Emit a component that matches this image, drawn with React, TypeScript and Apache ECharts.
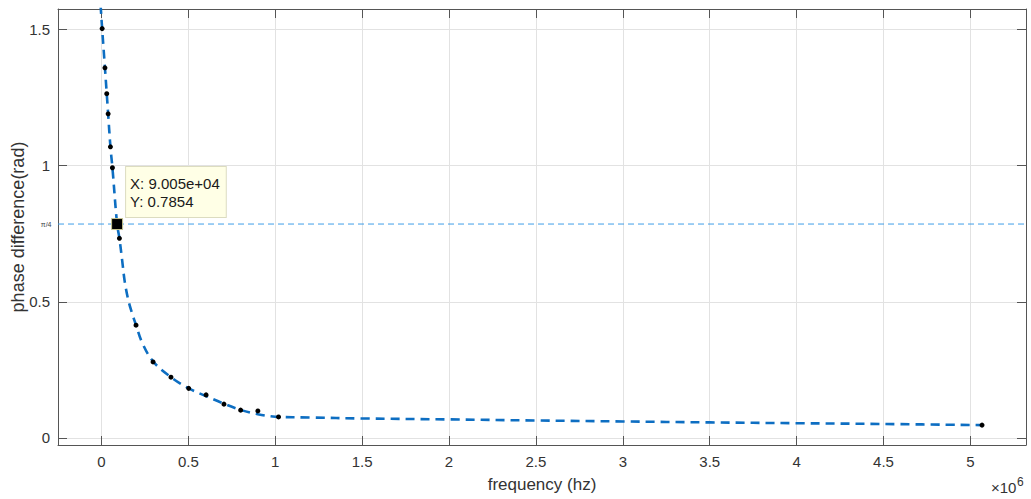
import React, { useEffect, useRef } from 'react';
import * as echarts from 'echarts';

// measured points (black dots)
const measuredFreq = [4000, 20100, 30500, 38500, 51700, 63200, 103400, 199000, 297000, 400000, 502000, 602000, 705000, 801000, 900000, 1019000, 5067000];
const measuredPhase = [1.503, 1.359, 1.264, 1.19, 1.069, 0.992, 0.733, 0.414, 0.279, 0.223, 0.182, 0.158, 0.124, 0.102, 0.099, 0.077, 0.047];

// fitted curve (blue dashed)
const fitFreq = [-5000, 4000, 20100, 30500, 38500, 51700, 63200, 90050, 103400, 119000, 134000, 155000, 176000, 199000, 234000, 297000, 400000, 502000, 600000, 700000, 800000, 900000, 1000000, 1200000, 1500000, 2000000, 2500000, 3000000, 3500000, 4000000, 4500000, 5067000];
const fitPhase = [1.59, 1.503, 1.359, 1.264, 1.19, 1.069, 0.992, 0.7854, 0.733, 0.653, 0.574, 0.505, 0.458, 0.414, 0.35, 0.281, 0.223, 0.182, 0.154, 0.127, 0.103, 0.087, 0.078, 0.075, 0.0715, 0.068, 0.064, 0.0605, 0.057, 0.054, 0.0512, 0.047];

// data cursor
const cursorFreq = 90050;
const cursorPhase = 0.7854;

// reference line (pi/4)
const refLineValue = 0.7854;
const refLineLabel = 'π/4';

// axis extents and tick steps
const xMin = -250000;
const xMax = 5320000;
const yMin = -0.026;
const yMax = 1.575;
const xTickStep = 500000;
const yTickStep = 0.5;

const FONT = "'Liberation Sans', Arial, Helvetica, sans-serif";
const AXIS_COLOR = '#555555';
const TEXT_COLOR = '#333333';
const GRID_COLOR = '#e2e2e2';
const REF_COLOR = '#3f9de8';

function fmtExp(v: number): string {
  const s = v.toExponential(3);
  const m = s.match(/^(-?[\d.]+)e([+-])(\d+)$/);
  if (!m) return s;
  const exp = m[3].length < 2 ? '0' + m[3] : m[3];
  return `${m[1]}e${m[2]}${exp}`;
}

function onStep(v: number, step: number): boolean {
  const k = v / step;
  return Math.abs(k - Math.round(k)) < 1e-6;
}

export default function App() {
  const ref = useRef<HTMLDivElement>(null);

  useEffect(() => {
    if (!ref.current) return;
    const chart = echarts.init(ref.current, undefined, { renderer: 'svg' });

    const xBase = { type: 'value' as const, min: xMin, max: xMax, splitNumber: 11 };
    const yBase = { type: 'value' as const, min: yMin, max: yMax, splitNumber: 3 };

    const option: any = {
      animation: false,
      backgroundColor: '#ffffff',
      textStyle: { fontFamily: FONT },
      grid: { left: 58, right: 5, top: 9, bottom: 54, containLabel: false, outerBoundsMode: 'none' },
      xAxis: [
        {
          ...xBase,
          position: 'bottom',
          name: 'frequency (hz)',
          nameLocation: 'middle',
          nameGap: 31,
          nameMoveOverlap: false,
          nameTextStyle: { fontSize: 17, color: TEXT_COLOR, fontFamily: FONT },
          axisLine: { show: true, onZero: false, lineStyle: { color: AXIS_COLOR, width: 1 } },
          axisTick: { show: true, inside: true, length: 9, lineStyle: { color: AXIS_COLOR } },
          axisLabel: {
            margin: 9,
            fontSize: 15,
            color: TEXT_COLOR,
            fontFamily: FONT,
            formatter: (v: number) => (onStep(v, xTickStep) ? String(+(v / 1e6).toFixed(1)) : ''),
          },
          splitLine: { show: true, lineStyle: { color: GRID_COLOR, width: 1 } },
        },
        {
          ...xBase,
          position: 'top',
          axisLine: { show: true, onZero: false, lineStyle: { color: AXIS_COLOR, width: 1 } },
          axisTick: { show: true, inside: true, length: 9, lineStyle: { color: AXIS_COLOR } },
          axisLabel: { show: false },
          splitLine: { show: false },
        },
      ],
      yAxis: [
        {
          ...yBase,
          position: 'left',
          name: 'phase difference(rad)',
          nameLocation: 'middle',
          nameGap: 31,
          nameMoveOverlap: false,
          nameTextStyle: { fontSize: 18, color: TEXT_COLOR, fontFamily: FONT },
          axisLine: { show: true, onZero: false, lineStyle: { color: AXIS_COLOR, width: 1 } },
          axisTick: { show: true, inside: true, length: 9, lineStyle: { color: AXIS_COLOR } },
          axisLabel: {
            margin: 8,
            fontSize: 15,
            color: TEXT_COLOR,
            fontFamily: FONT,
            formatter: (v: number) => (onStep(v, yTickStep) ? String(+v.toFixed(1)) : ''),
          },
          splitLine: { show: true, lineStyle: { color: GRID_COLOR, width: 1 } },
        },
        {
          ...yBase,
          position: 'right',
          axisLine: { show: true, onZero: false, lineStyle: { color: AXIS_COLOR, width: 1 } },
          axisTick: { show: true, inside: true, length: 9, lineStyle: { color: AXIS_COLOR } },
          axisLabel: { show: false },
          splitLine: { show: false },
        },
      ],
      series: [
        {
          type: 'line',
          name: 'pi/4',
          xAxisIndex: 0,
          yAxisIndex: 0,
          data: [
            {
              value: [xMin, refLineValue],
              label: {
                show: true,
                position: 'left',
                distance: 6,
                formatter: refLineLabel,
                fontSize: 7,
                color: '#444444',
                fontFamily: FONT,
              },
            },
            { value: [xMax, refLineValue], label: { show: false } },
          ],
          showSymbol: true,
          symbol: 'circle',
          symbolSize: 1,
          itemStyle: { color: 'rgba(0,0,0,0)', borderWidth: 0 },
          lineStyle: { color: REF_COLOR, width: 1, type: [6, 4], opacity: 1 },
          silent: true,
          clip: false,
          z: 1,
        },
        {
          type: 'line',
          name: 'fit',
          xAxisIndex: 0,
          yAxisIndex: 0,
          data: fitFreq.map((f, i) => [f, fitPhase[i]]),
          smooth: 0.35,
          showSymbol: false,
          symbol: 'none',
          clip: true,
          lineStyle: { color: '#0d6ec2', width: 2.6, type: [9, 6] },
          z: 2,
        },
        {
          type: 'scatter',
          name: 'measured',
          xAxisIndex: 0,
          yAxisIndex: 0,
          data: measuredFreq.map((f, i) => [f, measuredPhase[i]]),
          symbol: 'circle',
          symbolSize: 5,
          itemStyle: { color: '#000000', opacity: 1 },
          z: 3,
        },
        {
          type: 'scatter',
          name: 'cursor',
          xAxisIndex: 0,
          yAxisIndex: 0,
          data: [[cursorFreq, cursorPhase]],
          symbol: 'rect',
          symbolSize: 11,
          itemStyle: { color: '#000000', borderColor: '#c8c690', borderWidth: 1, opacity: 1 },
          z: 5,
          label: {
            show: true,
            position: [15, -51],
            formatter: `X: ${fmtExp(cursorFreq)}\nY: ${cursorPhase}`,
            fontSize: 15,
            lineHeight: 18,
            color: '#1a1a1a',
            fontFamily: FONT,
            align: 'left',
            verticalAlign: 'top',
            backgroundColor: '#ffffe6',
            borderColor: '#dcdcc0',
            borderWidth: 1,
            padding: [7, 6, 7, 4],
          },
        },
      ],
      graphic: [
        {
          type: 'text',
          left: 991,
          top: 480,
          style: { text: '×10', fontSize: 15, fill: TEXT_COLOR, font: `15px ${FONT}` },
        },
        {
          type: 'text',
          left: 1017,
          top: 476,
          style: { text: '6', fontSize: 12, fill: TEXT_COLOR, font: `12px ${FONT}` },
        },
      ],
    };

    chart.setOption(option);
    return () => {
      chart.dispose();
    };
  }, []);

  return (
    <div
      ref={ref}
      style={{ position: 'absolute', left: 0, top: 0, width: 1031, height: 499, background: '#fff' }}
    />
  );
}
